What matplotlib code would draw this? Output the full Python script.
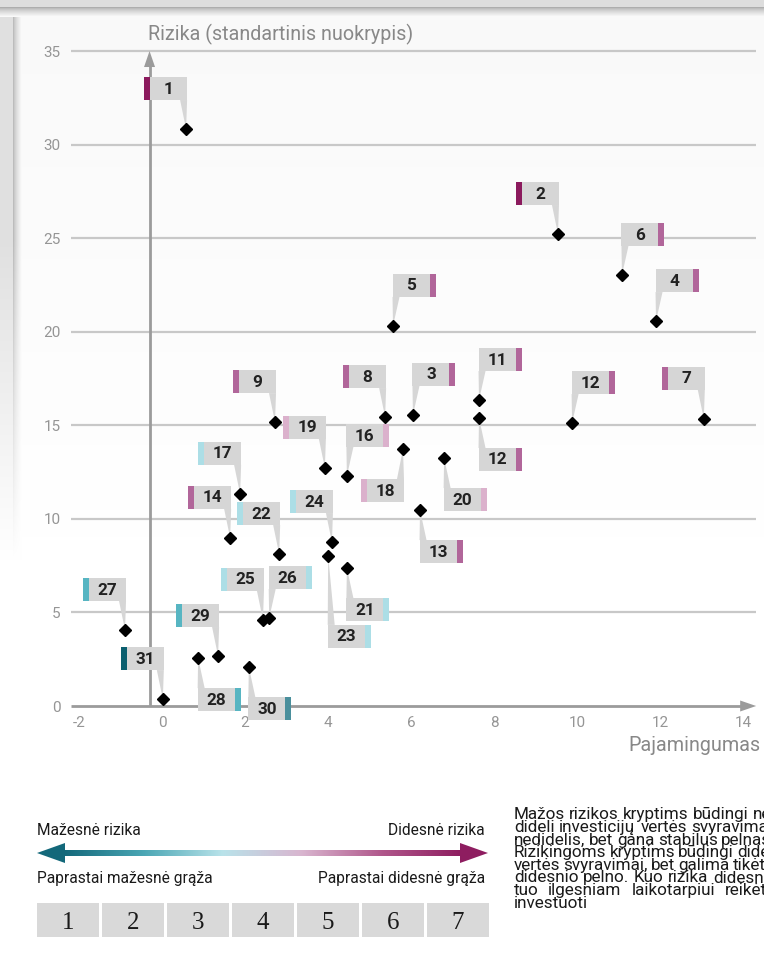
import numpy as np
import matplotlib
matplotlib.use('Agg')
import matplotlib.pyplot as plt
from matplotlib.transforms import Affine2D
from matplotlib.patches import Rectangle, Polygon
from matplotlib.colors import LinearSegmentedColormap

# ---------------- data ----------------
labels = ['1', '2', '3', '4', '5', '6', '7', '8', '9', '11', '12', '12', '13', '14', '16',
          '17', '18', '19', '20', '21', '22', '23', '24', '25', '26', '27', '28', '29', '30', '31']
income = [0.58, 9.53, 6.04, 11.89, 5.56, 11.07, 13.04, 5.37, 2.72, 7.63, 7.63, 9.87, 6.21, 1.64, 4.45,
          1.88, 5.80, 3.92, 6.79, 4.45, 2.82, 4.00, 4.09, 2.43, 2.58, -0.89, 0.87, 1.35, 2.09, 0.02]
risk = [30.83, 25.22, 15.55, 20.57, 20.31, 23.03, 15.34, 15.44, 15.17, 16.35, 15.39, 15.12, 10.47, 8.98, 12.29,
        11.33, 13.73, 12.72, 13.25, 7.37, 8.12, 8.02, 8.76, 4.60, 4.70, 4.06, 2.56, 2.67, 2.08, 0.37]
risk_class = [7, 7, 6, 6, 6, 6, 6, 6, 6, 6, 6, 6, 6, 6, 5,
              4, 5, 5, 5, 4, 4, 4, 4, 4, 4, 3, 3, 3, 2, 1]
x_ticks = [-2, 0, 2, 4, 6, 8, 10, 12, 14]
y_ticks = [0, 5, 10, 15, 20, 25, 30, 35]
scale_labels = ['1', '2', '3', '4', '5', '6', '7']

# ---------------- layout ----------------
placement = ['ul', 'ul', 'ur', 'ur', 'ur', 'ur', 'ul', 'ul', 'ul', 'ur', 'dr', 'ur', 'dr', 'ul', 'ur',
             'ul', 'dl', 'ul', 'dr', 'dr', 'ul', 'dr', 'ul', 'ul', 'ur', 'ul', 'dr', 'ul', 'dr', 'ul']
extra_drop = {21: 39}
class_colors = {1: '#0b5f6f', 2: '#4a8f9c', 3: '#57b5c2', 4: '#acdee6',
                5: '#dbb1cc', 6: '#b1669a', 7: '#8b1a5d'}
W, H = 764, 964
FONT = ['Roboto', 'DejaVu Sans']

fig = plt.figure(figsize=(W / 100, H / 100), dpi=100)
PX = Affine2D().scale(1 / W, -1 / H).translate(0, 1) + fig.transFigure

# ---------------- background ----------------
bg = fig.add_axes([0, 0, 1, 1], zorder=0)
bg.set_autoscale_on(False)
arr = np.ones((H, W))
rows = np.arange(H)[:, None]
cols = np.arange(W)[None, :]
panel = np.clip(0.978 + 0.022 * (rows - 17) / 520.0, 0.978, 1.0)
arr = np.minimum(arr, panel * np.ones((1, W)))
fade = np.clip((560 - rows) / 320.0, 0, 1)
leftv = np.where(cols < 13, 0.88, np.where(cols < 22, 0.74 + 0.26 * ((cols - 13) / 9.0) ** 0.7, 1.0))
arr = np.minimum(arr, 1 - (1 - leftv) * fade)
topv = np.where(rows < 7, 0.87, np.where(rows < 17, 0.68 + 0.32 * ((rows - 7) / 10.0) ** 0.7, 1.0))
arr = np.where(rows < 17, topv * np.ones((1, W)), arr)
bg.imshow(np.dstack([arr] * 3), extent=(0, W, H, 0), aspect='auto', interpolation='bilinear', zorder=0)

# ---------------- main axes ----------------
XPIX0, XSC = 162.0, 41.55
YPIX0, YSC = 706.0, 18.714
xlo, xhi = -2.2, 14.3
ylo, yhi = 0.0, 36.5
left = (XPIX0 + xlo * XSC) / W
right = (XPIX0 + xhi * XSC) / W
bottom = 1 - YPIX0 / H
top = 1 - (YPIX0 - yhi * YSC) / H
ax = fig.add_axes([left, bottom, right - left, top - bottom], zorder=2)
ax.set_facecolor('none')
ax.set_xlim(xlo, xhi)
ax.set_ylim(ylo, yhi)
for s in ax.spines.values():
    s.set_visible(False)
ax.set_xticks(x_ticks)
ax.set_xticklabels([str(t) for t in x_ticks])
ax.set_yticks(y_ticks)
ax.set_yticklabels([str(t) for t in y_ticks])
ax.tick_params(length=0, labelcolor='#959595', labelsize=11)
ax.tick_params(axis='x', pad=7)
ax.tick_params(axis='y', pad=7)
for t in ax.get_xticklabels() + ax.get_yticklabels():
    t.set_family(FONT)
    t.set_fontweight('normal')

ax.hlines(y_ticks[1:], xlo, xhi, colors='#c8c8c8', lw=1.6, zorder=1)

to_px = ax.transData + PX.inverted()
axis_col = '#9b9b9b'
(hx0, hy), (hx1, _) = to_px.transform([(xlo, 0), (xhi, 0)])
ax.plot([hx0, hx1 - 14], [hy, hy], color=axis_col, lw=2, transform=PX, clip_on=False, zorder=2,
        solid_capstyle='butt')
ax.add_patch(Polygon([(hx1, hy), (hx1 - 16, hy - 5.5), (hx1 - 16, hy + 5.5)], closed=True,
                     facecolor=axis_col, edgecolor='none', transform=PX, clip_on=False, zorder=2))
(vx, vy0), (_, vy1) = to_px.transform([(-0.3, 0), (-0.3, 35)])
ax.plot([vx, vx], [vy0, vy1 + 14], color=axis_col, lw=2, transform=PX, clip_on=False, zorder=2,
        solid_capstyle='butt')
ax.add_patch(Polygon([(vx, vy1), (vx - 5.5, vy1 + 16), (vx + 5.5, vy1 + 16)], closed=True,
                     facecolor=axis_col, edgecolor='none', transform=PX, clip_on=False, zorder=2))

ax.plot(income, risk, 'D', color='black', ms=6.6, zorder=6, clip_on=False, linestyle='none')

# ---------------- callout labels ----------------
pts = to_px.transform(np.column_stack([income, risk]))
BW, BH, SW = 43, 23, 6
box_col = '#d6d6d6'
for i, (lab, cls, pl) in enumerate(zip(labels, risk_class, placement)):
    px, py = pts[i]
    if pl[0] == 'u':
        btop = py - 52
        base_y = btop + BH
    else:
        btop = py + 30 + extra_drop.get(i, 0)
        base_y = btop
    if pl[1] == 'l':
        redge = px + 1
        bleft = redge - BW
        base = (redge - 7, redge)
        sx = bleft
        tx = bleft + SW + (BW - SW) / 2
    else:
        bleft = px - 0.5
        base = (bleft, bleft + 7)
        sx = bleft + BW - SW
        tx = bleft + (BW - SW) / 2
    ax.add_patch(Polygon([(base[0], base_y), (base[1], base_y), (px, py)], closed=True,
                         facecolor=box_col, edgecolor='none', transform=PX, clip_on=False, zorder=3))
    ax.add_patch(Rectangle((bleft, btop), BW, BH, facecolor=box_col, edgecolor='none',
                           transform=PX, clip_on=False, zorder=3))
    ax.add_patch(Rectangle((sx, btop), SW, BH, facecolor=class_colors[cls], edgecolor='none',
                           transform=PX, clip_on=False, zorder=3))
    ax.text(tx, btop + BH / 2 + 0.5, lab, transform=PX, ha='center', va='center', fontsize=12.3,
            fontweight='bold', color='#222222', family=FONT, zorder=4)

# ---------------- axis titles ----------------
fig.text(148, 40, 'Rizika (standartinis nuokrypis)', transform=PX, ha='left', va='baseline',
         fontsize=14.2, color='#888888', family=FONT, fontweight='normal')
fig.text(761, 751, 'Pajamingumas', transform=PX, ha='right', va='baseline',
         fontsize=14.2, color='#888888', family=FONT, fontweight='normal')

# ---------------- legend ----------------
txtc = '#1a1a1a'
fig.text(37, 835, 'Mažesnė rizika', transform=PX, ha='left', va='baseline', fontsize=11.2, color=txtc, family=FONT)
fig.text(485, 835, 'Didesnė rizika', transform=PX, ha='right', va='baseline', fontsize=11.2, color=txtc, family=FONT)
fig.text(37, 883, 'Paprastai mažesnė grąža', transform=PX, ha='left', va='baseline', fontsize=11.2, color=txtc, family=FONT)
fig.text(485, 883, 'Paprastai didesnė grąža', transform=PX, ha='right', va='baseline', fontsize=11.2, color=txtc, family=FONT)

cmap = LinearSegmentedColormap.from_list('risk', ['#13687a', '#4aa6b4', '#b9e3ea', '#d9b5cf', '#b0578b', '#8e1d60'])
bg.imshow(np.linspace(0, 1, 256)[None, :], cmap=cmap, extent=(63, 462, 856, 850), aspect='auto',
          interpolation='bilinear', zorder=2)
bg.add_patch(Polygon([(37, 853), (65, 843), (65, 863)], closed=True, facecolor='#13687a', edgecolor='none', zorder=3))
bg.add_patch(Polygon([(488, 853), (460, 843), (460, 863)], closed=True, facecolor='#8e1d60', edgecolor='none', zorder=3))

for k, s in enumerate(scale_labels):
    x0 = 37 + k * 65
    bg.add_patch(Rectangle((x0, 903), 62, 34, facecolor='#d9d9d9', edgecolor='none', zorder=2))
    bg.text(x0 + 31, 929, s, ha='center', va='baseline', fontsize=18, color=txtc,
            family=['Liberation Serif', 'DejaVu Serif'], zorder=3)

bg.set_xlim(0, W)
bg.set_ylim(H, 0)
bg.axis('off')

# justified paragraph (cut by the right edge as in the original)
para = ['Mažos rizikos kryptims būdingi ne-',
        'dideli investicijų vertės svyravimai,',
        'nedidelis, bet gana stabilus pelnas.',
        'Rizikingoms kryptims būdingi dideli',
        'vertės svyravimai, bet galima tikėtis',
        'didesnio pelno. Kuo rizika didesnė,',
        'tuo ilgesniam laikotarpiui reikėtų',
        'investuoti']
renderer = fig.canvas.get_renderer()
PL, PR = 514, 776
for k, line in enumerate(para):
    yb = 819.3 + k * 12.63
    words = line.split(' ')
    objs = [fig.text(PL, yb, w, transform=PX, ha='left', va='baseline', fontsize=12.3,
                     color=txtc, family=FONT) for w in words]
    if k == len(para) - 1 or len(words) == 1:
        continue
    widths = [o.get_window_extent(renderer).width for o in objs]
    gap = max(3.0, (PR - PL - sum(widths)) / (len(words) - 1))
    xcur = PL
    for o, wd in zip(objs, widths):
        o.set_x(xcur)
        xcur += wd + gap

fig.savefig('out.png', dpi=100)
